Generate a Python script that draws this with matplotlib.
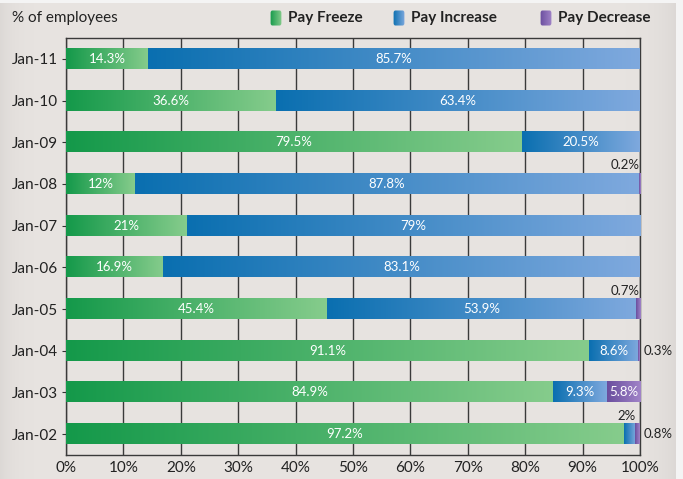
import matplotlib.pyplot as plt
import numpy as np
from matplotlib.colors import LinearSegmentedColormap
from matplotlib.patches import FancyBboxPatch

years = ['Jan-11', 'Jan-10', 'Jan-09', 'Jan-08', 'Jan-07',
         'Jan-06', 'Jan-05', 'Jan-04', 'Jan-03', 'Jan-02']
freeze = [14.3, 36.6, 79.5, 12, 21, 16.9, 45.4, 91.1, 84.9, 97.2]
increase = [85.7, 63.4, 20.5, 87.8, 79, 83.1, 53.9, 8.6, 9.3, 2]
decrease = [0, 0, 0, 0.2, 0, 0, 0.7, 0.3, 5.8, 0.8]

series = [('Pay Freeze', freeze, ('#14994a', '#86cc8c')),
          ('Pay Increase', increase, ('#0a6fb0', '#7fa9de')),
          ('Pay Decrease', decrease, ('#6a4e9e', '#a184c8'))]

plt.rcParams['font.family'] = ['Lato', 'DejaVu Sans']
bg = '#e8e4e1'
W, H = 683, 479
fig = plt.figure(figsize=(W / 100, H / 100), dpi=100, facecolor='#f4f4f4')

# panel background with slightly darker edges
bgax = fig.add_axes([0, 0, 676 / W, 1 - 3 / H], zorder=-5)
xx = np.linspace(0, 1, 400)
shade = 1 - 0.05 * (np.exp(-xx / 0.02) + np.exp(-(1 - xx) / 0.03))
base = np.array([0xe8, 0xe4, 0xe1]) / 255
img = np.tile((shade[:, None] * base)[None, :, :], (10, 1, 1))
bgax.imshow(img, aspect='auto')
bgax.axis('off')

ax = fig.add_axes([66 / W, 1 - 455 / H, 574 / W, 417 / H], facecolor=bg)
ax.patch.set_alpha(0)

grad = np.linspace(0, 1, 256).reshape(1, -1)
bar_h = 0.48
n = len(years)
for k, (name, vals, cols) in enumerate(series):
    cmap = LinearSegmentedColormap.from_list(name, cols)
    for i, v in enumerate(vals):
        if v <= 0:
            continue
        y = n - 1 - i
        left = sum(s[1][i] for s in series[:k])
        ax.imshow(grad, cmap=cmap, aspect='auto', zorder=3,
                  extent=(left, left + v, y - bar_h / 2, y + bar_h / 2))
        lab = f'{v:g}%'
        if v >= 5:
            ax.text(left + v / 2, y, lab, ha='center', va='center',
                    color='white', fontsize=9.5, zorder=4)
        elif name == 'Pay Decrease' and years[i] in ('Jan-04', 'Jan-02'):
            # these two sit to the right of the frame
            ax.text(100.6, y, lab, ha='left', va='center', color='#222222',
                    fontsize=9.5, clip_on=False, zorder=4)
        else:
            ax.text(left + v, y + bar_h / 2 + 0.06, lab, ha='right', va='bottom',
                    color='#222222', fontsize=9.5, zorder=4)

ax.set_xlim(0, 100)
ax.set_ylim(-0.5, n - 0.5)
ax.set_yticks(range(n))
ax.set_yticklabels(years[::-1], fontsize=11, color='#222222')
ax.set_xticks(range(0, 101, 10))
ax.set_xticklabels([f'{t}%' for t in range(0, 101, 10)], fontsize=11, color='#222222')
ax.tick_params(axis='x', length=0, pad=4)
ax.tick_params(axis='y', length=3, color='#333333', pad=3)
ax.grid(axis='x', color='#3a3a3a', linewidth=1, zorder=1)
for sp in ax.spines.values():
    sp.set_color('#3a3a3a')
    sp.set_linewidth(1)

fig.text(12 / W, 1 - 18 / H, '% of employees', fontsize=11,
         color='#222222', va='center', ha='left')
legend_x = [270, 393, 540]
for (name, vals, cols), lx in zip(series, legend_x):
    cmap = LinearSegmentedColormap.from_list(name + 'leg', cols)
    lax = fig.add_axes([lx / W, 1 - 26 / H, 12 / W, 16 / H])
    lax.imshow(grad, cmap=cmap, aspect='auto', extent=(0, 1, 0, 1))
    lax.set_xlim(0, 1)
    lax.set_ylim(0, 1)
    clip = FancyBboxPatch((0.05, 0.03), 0.9, 0.94,
                          boxstyle='round,pad=0,rounding_size=0.15',
                          transform=lax.transData, facecolor='none', edgecolor='none')
    lax.add_patch(clip)
    lax.images[0].set_clip_path(clip)
    lax.axis('off')
    fig.text((lx + 18) / W, 1 - 18 / H, name, fontsize=11,
             color='#222222', va='center', ha='left', fontweight='bold')

fig.savefig('out.png', dpi=100, facecolor=fig.get_facecolor())
